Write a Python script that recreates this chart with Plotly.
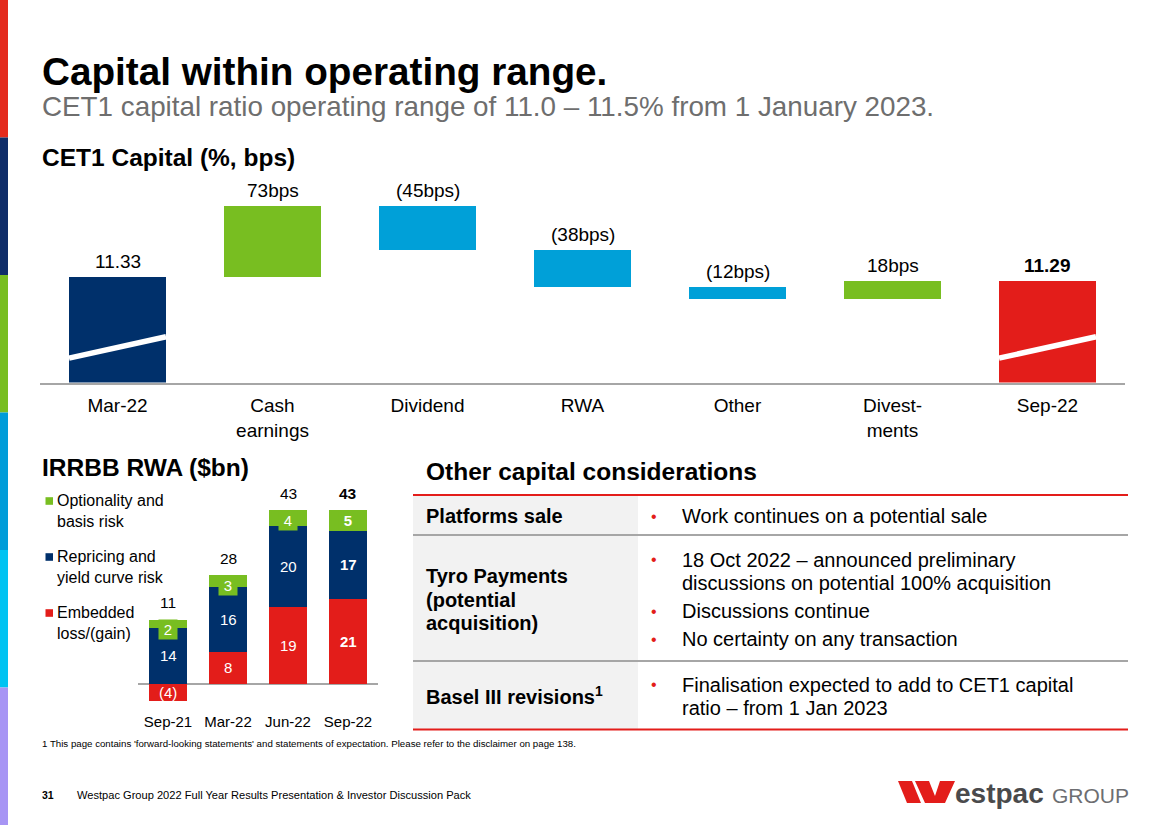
import plotly.graph_objects as go

# ---------------- data ----------------
wf_categories = ["Mar-22", "Cash<br>earnings", "Dividend", "RWA", "Other", "Divest-<br>ments", "Sep-22"]
cet1_start = 11.33
cet1_end = 11.29
movements_bps = [73, -45, -38, -12, 18]
wf_labels = ["11.33", "73bps", "(45bps)", "(38bps)", "(12bps)", "18bps", "<b>11.29</b>"]

irrbb_periods = ["Sep-21", "Mar-22", "Jun-22", "Sep-22"]
embedded = [-4, 8, 19, 21]
repricing = [14, 16, 20, 17]
optionality = [2, 3, 4, 5]
irrbb_totals = [11, 28, 43, 43]
irrbb_bold = [False, False, False, True]

# ---------------- style ----------------
W, H = 1168, 825
FONT = "Liberation Sans, Arial, sans-serif"
NAVY = "#00306B"
GREEN = "#78BE21"
BLUE = "#00A0D8"
RED = "#E31D1A"
GREY_LINE = "#A6A6A6"


def px(x):
    return x / W


def py(y):
    return 1 - y / H


# waterfall geometry
wf_ymin, wf_ymax = 10.245, 12.40
wf_bottom_px = 382.5
wf_ppu = 97.3
wf_top_px = wf_bottom_px - (wf_ymax - wf_ymin) * wf_ppu
wf_bar_w = 0.626

levels = [cet1_start]
for m in movements_bps:
    levels.append(levels[-1] + m / 100)

wf_base = [0]
wf_len = [cet1_start]
wf_colors = [NAVY]
wf_tops = [cet1_start]
for i, m in enumerate(movements_bps):
    wf_base.append(min(levels[i], levels[i + 1]))
    wf_len.append(abs(m) / 100)
    wf_colors.append(GREEN if m > 0 else BLUE)
    wf_tops.append(max(levels[i], levels[i + 1]))
wf_base.append(0)
wf_len.append(cet1_end)
wf_colors.append(RED)
wf_tops.append(cet1_end)

# IRRBB geometry
ir_ymin, ir_ymax = -6, 48
ir_zero_px = 684
ir_ppu = 4.05
ir_bottom_px = ir_zero_px - ir_ymin * ir_ppu
ir_top_px = ir_zero_px - ir_ymax * ir_ppu

fig = go.Figure()

fig.add_trace(go.Bar(
    x=wf_categories, y=wf_len, base=wf_base, marker=dict(color=wf_colors, line=dict(width=0)),
    width=wf_bar_w, xaxis="x", yaxis="y", hoverinfo="skip", showlegend=False,
))

for vals, col in [(embedded, RED), (repricing, NAVY), (optionality, GREEN)]:
    fig.add_trace(go.Bar(
        x=irrbb_periods, y=vals, marker=dict(color=col, line=dict(width=0)), width=0.62,
        xaxis="x2", yaxis="y2", hoverinfo="skip", showlegend=False,
    ))

annotations = []
shapes = []


def txt(x, y, text, size, color="#000000", bold=False, xanchor="left", yanchor="middle", **kw):
    if bold:
        text = "<b>" + text + "</b>"
    d = dict(x=px(x), y=py(y), xref="paper", yref="paper", text=text, showarrow=False,
             xanchor=xanchor, yanchor=yanchor, align="left",
             font=dict(family=FONT, size=size, color=color))
    d.update(kw)
    annotations.append(d)


# left colour stripe
stripe_cols = ["#E42A1D", "#0F2D69", "#78BE21", "#009CD9", "#00C3F2", "#A795F4"]
for i, c in enumerate(stripe_cols):
    shapes.append(dict(type="rect", xref="paper", yref="paper", x0=0, x1=px(8),
                       y0=py(H * (i + 1) / 6), y1=py(H * i / 6), fillcolor=c, line=dict(width=0), layer="above"))

# titles
txt(40, 71, "Capital within operating range.", 38.7, bold=True)
txt(40, 107, "CET1 capital ratio operating range of 11.0 – 11.5% from 1 January 2023.", 27.8, color="#6E6E6E")
txt(40, 157, "CET1 Capital (%, bps)", 24.5, bold=True)
txt(40, 467, "IRRBB RWA ($bn)", 24.5, bold=True)
txt(424, 471, "Other capital considerations", 24.5, bold=True)

# waterfall labels
for i, (lab, top) in enumerate(zip(wf_labels, wf_tops)):
    annotations.append(dict(x=wf_categories[i], y=top, xref="x", yref="y", text=lab, showarrow=False,
                            yanchor="bottom", yshift=3, font=dict(family=FONT, size=19, color="#000000")))

# white diagonal stripe on the total bars
stripe_rise = (0.25, 0.47)
for i in (0, len(wf_categories) - 1):
    shapes.append(dict(type="line", xref="x", yref="y",
                       x0=i - wf_bar_w / 2, x1=i + wf_bar_w / 2,
                       y0=wf_ymin + stripe_rise[0], y1=wf_ymin + stripe_rise[1],
                       line=dict(color="white", width=5.5)))

# IRRBB labels
for i, p in enumerate(irrbb_periods):
    b = irrbb_bold[i]
    wrap = (lambda s: "<b>" + s + "</b>") if b else (lambda s: s)
    e = embedded[i]
    e_txt = "(" + str(abs(e)) + ")" if e < 0 else str(e)
    annotations.append(dict(x=p, y=e / 2, xref="x2", yref="y2", text=wrap(e_txt), showarrow=False,
                            font=dict(family=FONT, size=15, color="white")))
    pos_base = max(e, 0)
    annotations.append(dict(x=p, y=pos_base + repricing[i] / 2, xref="x2", yref="y2", text=wrap(str(repricing[i])),
                            showarrow=False, font=dict(family=FONT, size=15, color="white")))
    top = pos_base + repricing[i] + optionality[i]
    annotations.append(dict(x=p, y=top, xref="x2", yref="y2", text=wrap(str(optionality[i])),
                            showarrow=False, yanchor="top", width=18, height=19, bgcolor=GREEN, borderpad=0,
                            font=dict(family=FONT, size=15, color="white")))
    annotations.append(dict(x=p, y=top, xref="x2", yref="y2", text=wrap(str(irrbb_totals[i])),
                            showarrow=False, yanchor="bottom", yshift=6,
                            font=dict(family=FONT, size=15.5, color="#000000")))

# IRRBB legend
legend_items = [(GREEN, "Optionality and<br>basis risk", 501),
                (NAVY, "Repricing and<br>yield curve risk", 557),
                (RED, "Embedded<br>loss/(gain)", 613)]
for col, lab, yc in legend_items:
    shapes.append(dict(type="rect", xref="paper", yref="paper", x0=px(45.5), x1=px(53),
                       y0=py(yc + 3.8), y1=py(yc - 3.8), fillcolor=col, line=dict(width=0)))
    txt(54.5, yc - 11, lab, 16, yanchor="top")

# table
shapes.append(dict(type="rect", xref="paper", yref="paper", x0=px(413), x1=px(638),
                   y0=py(729), y1=py(495), fillcolor="#F2F2F2", line=dict(width=0), layer="below"))
for yl, col in [(495, RED), (535, GREY_LINE), (661, GREY_LINE), (729.5, RED)]:
    shapes.append(dict(type="line", xref="paper", yref="paper", x0=px(413), x1=px(1128),
                       y0=py(yl), y1=py(yl), line=dict(color=col, width=2)))

left_col = [("Platforms sale", 516), ("Tyro Payments", 576), ("(potential", 599.5), ("acquisition)", 623),
            ("Basel III revisions<sup>1</sup>", 695)]
for t, yc in left_col:
    txt(424, yc, t, 20, bold=True)

bullets = [516, 559.5, 611, 639, 684.5]
for yc in bullets:
    txt(653.5, yc, "•", 16, color=RED, xanchor="center")
right_col = [("Work continues on a potential sale", 516),
             ("18 Oct 2022 – announced preliminary", 559.5),
             ("discussions on potential 100% acquisition", 583),
             ("Discussions continue", 611),
             ("No certainty on any transaction", 639),
             ("Finalisation expected to add to CET1 capital", 684.5),
             ("ratio – from 1 Jan 2023", 708)]
for t, yc in right_col:
    txt(679.5, yc, t, 20)

# footnote and footer
txt(40, 743, "1 This page contains 'forward-looking statements' and statements of expectation. Please refer to the disclaimer on page 138.", 9.7)
txt(40, 795, "31", 10.5, bold=True)
txt(75, 795, "Westpac Group 2022 Full Year Results Presentation &amp; Investor Discussion Pack", 11.1)

# logo
def path(points):
    s = "M " + " L ".join(f"{px(x):.5f},{py(y):.5f}" for x, y in points) + " Z"
    return s


shapes.append(dict(type="path", xref="paper", yref="paper",
                   path=path([(898, 781), (912, 781), (921, 803), (907, 803)]),
                   fillcolor=RED, line=dict(width=0)))
shapes.append(dict(type="path", xref="paper", yref="paper",
                   path=path([(915, 781), (929, 781), (935, 796), (940, 781), (955, 781), (945, 803), (925, 803)]),
                   fillcolor=RED, line=dict(width=0)))
txt(953, 793, "<b>estpac</b>", 28, color="#4A4A4C")
txt(1050, 795, "GROUP", 21, color="#6D6E71")

fig.update_layout(
    width=W, height=H, margin=dict(l=0, r=0, t=0, b=0),
    paper_bgcolor="white", plot_bgcolor="rgba(0,0,0,0)",
    barmode="relative", bargap=0,
    font=dict(family=FONT, color="#000000"),
    xaxis=dict(domain=[px(40), px(1125)], anchor="y", showgrid=False, zeroline=False,
               showline=True, linecolor=GREY_LINE, linewidth=1.5, ticks="",
               tickfont=dict(size=19, family=FONT, color="#000000"), ticklabelstandoff=5, fixedrange=True),
    yaxis=dict(domain=[py(wf_bottom_px), py(wf_top_px)], range=[wf_ymin, wf_ymax], visible=False, fixedrange=True),
    xaxis2=dict(domain=[px(138), px(378)], anchor="y2", showgrid=False, zeroline=False, showline=False, ticks="",
                tickfont=dict(size=15, family=FONT, color="#000000"), ticklabelstandoff=3, fixedrange=True),
    yaxis2=dict(domain=[py(ir_bottom_px), py(ir_top_px)], range=[ir_ymin, ir_ymax], showgrid=False,
                showticklabels=False, zeroline=True, zerolinecolor=GREY_LINE, zerolinewidth=1.5, fixedrange=True),
    annotations=annotations, shapes=shapes, showlegend=False,
)

fig.write_html("out.html", config={"displayModeBar": False},
               post_script="document.body.style.margin='0';document.body.style.overflow='hidden';")
